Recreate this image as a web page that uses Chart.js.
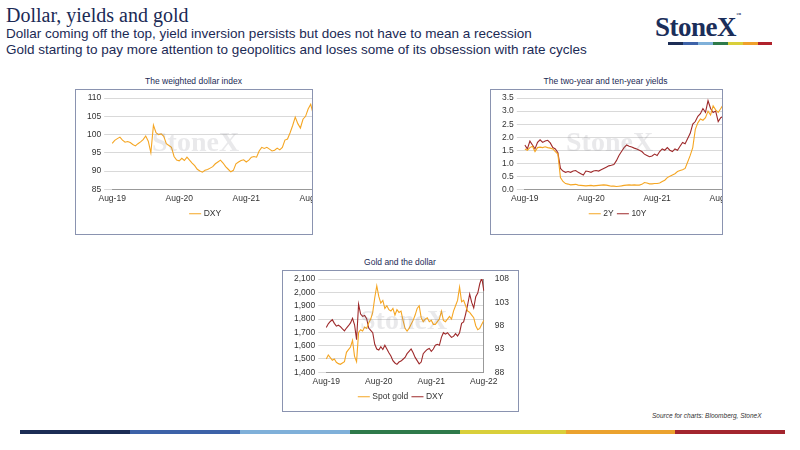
<!DOCTYPE html>
<html>
<head>
<meta charset="utf-8">
<script src="https://cdn.jsdelivr.net/npm/chart.js@4"></script>
<style>
  body { margin: 0; width: 800px; height: 450px; background: #fff; position: relative; overflow: hidden; font-family: "Liberation Sans", Arial, sans-serif; }
  .abs { position: absolute; }
  #title { left: 6px; top: 4px; font-family: "Liberation Serif", serif; font-size: 20px; color: #1b2a55; }
  .sub { left: 6px; font-size: 13.5px; color: #1b2a55; }
  #logo { left: 655px; top: 12px; font-family: "Liberation Serif", serif; font-weight: bold; font-size: 27px; color: #1b2e5a; letter-spacing: -0.5px; }
  .logobar { top: 42px; height: 3px; }
  .ctitle { font-size: 8.5px; color: #1b2a55; text-align: center; }
  .box { border: 1px solid #8a93b0; background: #fff; overflow: hidden; }
  .wm { font-family: "Liberation Serif", serif; font-weight: bold; font-size: 28px; color: rgba(120,120,130,0.16); pointer-events: none; }
  .foot { top: 430px; height: 4px; }
  #src { left: 652px; top: 412px; font-size: 6.5px; font-style: italic; color: #333; }
</style>
</head>
<body>
<div class="abs" id="title">Dollar, yields and gold</div>
<div class="abs sub" style="top:26px">Dollar coming off the top, yield inversion persists but does not have to mean a recession</div>
<div class="abs sub" style="top:42px">Gold starting to pay more attention to geopolitics and loses some of its obsession with rate cycles</div>
<div class="abs" id="logo">StoneX<span style="font-size:5px;vertical-align:top">™</span></div>
<div class="abs logobar" style="left:668px;width:15px;background:#1c2d55"></div>
<div class="abs logobar" style="left:683px;width:15px;background:#3d62a8"></div>
<div class="abs logobar" style="left:698px;width:15px;background:#7fb0d9"></div>
<div class="abs logobar" style="left:713px;width:15px;background:#2e7a4a"></div>
<div class="abs logobar" style="left:728px;width:15px;background:#d9cf3a"></div>
<div class="abs logobar" style="left:743px;width:15px;background:#f0a02a"></div>
<div class="abs logobar" style="left:758px;width:14px;background:#b0222c"></div>

<div class="abs ctitle" style="left:75px;top:76px;width:237px">The weighted dollar index</div>
<div class="abs box" style="left:75px;top:89px;width:236px;height:144px"><canvas id="c1" width="252" height="144"></canvas></div>
<div class="abs wm" style="left:152px;top:126px">StoneX</div>

<div class="abs ctitle" style="left:490px;top:76px;width:231px">The two-year and ten-year yields</div>
<div class="abs box" style="left:490px;top:89px;width:231px;height:144px"><canvas id="c2" width="247" height="144"></canvas></div>
<div class="abs wm" style="left:566px;top:126px">StoneX</div>

<div class="abs ctitle" style="left:282px;top:257px;width:236px">Gold and the dollar</div>
<div class="abs box" style="left:282px;top:270px;width:235px;height:140px"><canvas id="c3" width="235" height="140"></canvas></div>
<div class="abs wm" style="left:360px;top:304px">StoneX</div>

<div class="abs" id="src">Source for charts: Bloomberg, StoneX</div>
<div class="abs foot" style="left:20px;width:110px;background:#1c2d55"></div>
<div class="abs foot" style="left:130px;width:110px;background:#3d62a8"></div>
<div class="abs foot" style="left:240px;width:110px;background:#7fb0d9"></div>
<div class="abs foot" style="left:350px;width:110px;background:#2e7a4a"></div>
<div class="abs foot" style="left:460px;width:106px;background:#d9cf3a"></div>
<div class="abs foot" style="left:566px;width:109px;background:#eba22e"></div>
<div class="abs foot" style="left:675px;width:110px;background:#a3252e"></div>

<script>
// biweekly observations, Aug-19 .. Aug-22 (index 0, 26, 52, 78 = August of each year)
const tickLabels = ["Aug-19", "Aug-20", "Aug-21", "Aug-22"];

const dxy = [97.6,98.4,98.9,99.3,98.5,97.9,98.1,97.8,97.3,96.9,97.5,98.0,98.6,99.6,98.2,95.0,
  102.6,100.5,100.0,100.2,99.5,97.5,97.0,96.5,94.0,93.0,92.8,93.5,92.9,93.8,93.0,92.2,91.5,90.5,
  90.0,89.7,90.2,90.4,90.8,91.2,92.0,92.5,93.0,92.2,91.2,90.5,89.8,90.2,92.0,92.5,92.9,93.1,92.5,
  93.0,93.8,94.0,93.8,95.5,96.5,96.2,96.5,96.0,95.5,95.7,96.3,95.8,96.5,98.5,98.8,100.5,102.5,
  104.8,103.0,101.8,104.2,105.0,107.0,108.3,105.5];

const y2 = [1.55,1.50,1.60,1.65,1.45,1.60,1.62,1.60,1.63,1.60,1.58,1.55,1.45,1.35,0.45,0.30,0.22,
  0.20,0.17,0.18,0.19,0.16,0.15,0.14,0.13,0.14,0.15,0.13,0.14,0.15,0.16,0.17,0.16,0.14,0.12,0.12,
  0.11,0.12,0.13,0.15,0.16,0.17,0.16,0.17,0.16,0.16,0.19,0.26,0.24,0.21,0.21,0.22,0.22,0.24,0.30,
  0.35,0.45,0.50,0.55,0.60,0.68,0.72,0.75,0.80,1.05,1.30,1.60,2.30,2.55,2.70,2.65,2.75,3.00,2.85,
  3.20,3.05,2.95,3.10,3.25];

const y10 = [1.70,1.55,1.85,1.70,1.55,1.80,1.90,1.80,1.85,1.88,1.78,1.60,1.55,1.40,0.80,0.70,0.65,
  0.68,0.65,0.70,0.72,0.65,0.60,0.55,0.70,0.68,0.65,0.70,0.72,0.70,0.75,0.80,0.85,0.90,0.92,0.95,
  1.10,1.30,1.45,1.60,1.70,1.65,1.62,1.58,1.55,1.50,1.45,1.35,1.30,1.25,1.28,1.35,1.30,1.45,1.55,
  1.50,1.60,1.50,1.45,1.55,1.50,1.65,1.80,1.75,1.95,2.15,2.50,2.60,2.80,2.90,3.10,2.95,3.40,3.10,
  2.95,3.00,2.60,2.75,2.80];

const gold = [1500,1530,1510,1490,1500,1475,1465,1460,1470,1480,1550,1570,1590,1640,1520,1480,1700,
  1720,1710,1740,1730,1770,1800,1850,1960,2050,1970,1920,1940,1880,1900,1870,1860,1880,1830,1870,
  1850,1860,1790,1730,1710,1730,1760,1790,1830,1880,1900,1810,1780,1800,1810,1780,1790,1760,1760,
  1780,1800,1860,1790,1780,1800,1820,1800,1860,1900,1940,2040,1930,1940,1900,1860,1850,1830,1810,
  1750,1720,1730,1760,1790];

const labels = dxy.map((_, i) => i);

const ORANGE = "#f5a623";
const DARKRED = "#9e2a2b";
const GRID = "#d9d9d9";
const TICK = { size: 8.5, family: "Liberation Sans" };

function xAxis() {
  return {
    grid: { display: false, drawTicks: true, tickLength: 3 },
    border: { color: "#999" },
    ticks: {
      autoSkip: false, maxRotation: 0, color: "#333", font: TICK, padding: 1,
      callback: (v, i) => (i % 26 === 0 ? tickLabels[i / 26] : null),
    },
  };
}

function yAxis(min, max, step, fmt) {
  return { min, max, ticks: { stepSize: step, autoSkip: false, color: "#333", font: TICK, callback: fmt },
    grid: { color: GRID }, border: { display: false } };
}

function lineSet(label, data, color, yAxisID) {
  return { label, data, borderColor: color, backgroundColor: color, borderWidth: 1.1,
    pointRadius: 0, tension: 0, yAxisID: yAxisID || "y" };
}

function legendOpts() {
  return { position: "bottom", labels: { usePointStyle: true, pointStyle: "line", boxWidth: 18,
    color: "#333", font: TICK, padding: 5 } };
}

const base = { responsive: false, animation: false, plugins: { legend: legendOpts(), tooltip: { enabled: false } } };

new Chart(document.getElementById("c1"), {
  type: "line",
  data: { labels, datasets: [lineSet("DXY", dxy, ORANGE)] },
  options: { ...base, layout: { padding: { left: 8, right: 0, top: 5, bottom: 6 } },
    scales: { x: xAxis(), y: yAxis(85, 110, 5) } },
});

new Chart(document.getElementById("c2"), {
  type: "line",
  data: { labels, datasets: [lineSet("2Y", y2, ORANGE), lineSet("10Y", y10, DARKRED)] },
  options: { ...base, layout: { padding: { left: 8, right: 0, top: 5, bottom: 6 } },
    scales: { x: xAxis(), y: yAxis(0, 3.5, 0.5, (v) => v.toFixed(1)) } },
});

new Chart(document.getElementById("c3"), {
  type: "line",
  data: { labels, datasets: [lineSet("Spot gold", gold, ORANGE), lineSet("DXY", dxy, DARKRED, "y1")] },
  options: { ...base, layout: { padding: { left: 8, right: 6, top: 2, bottom: 0 } },
    scales: { x: xAxis(),
      y: yAxis(1400, 2100, 100, (v) => v.toLocaleString("en-US")),
      y1: { position: "right", min: 88, max: 108, ticks: { stepSize: 5, autoSkip: false, color: "#333", font: TICK }, grid: { display: false }, border: { color: "#999" } } } },
});
</script>
</body>
</html>
